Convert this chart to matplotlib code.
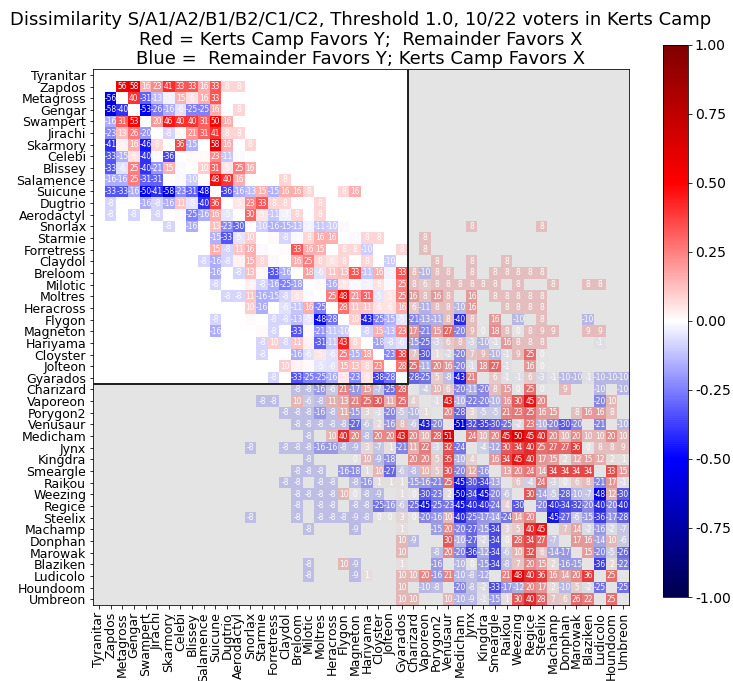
"""Antisymmetric dissimilarity heatmap between Kerts Camp and the remaining voters."""

import numpy as np
import matplotlib
matplotlib.use("Agg")
import matplotlib.pyplot as plt
from matplotlib.patches import Rectangle

plt.rcParams["axes.unicode_minus"] = False

POKEMON = [
    "Tyranitar", "Zapdos", "Metagross", "Gengar", "Swampert", "Jirachi",
    "Skarmory", "Celebi", "Blissey", "Salamence", "Suicune", "Dugtrio",
    "Aerodactyl", "Snorlax", "Starmie", "Forretress", "Claydol", "Breloom",
    "Milotic", "Moltres", "Heracross", "Flygon", "Magneton", "Hariyama",
    "Cloyster", "Jolteon", "Gyarados", "Charizard", "Vaporeon", "Porygon2",
    "Venusaur", "Medicham", "Jynx", "Kingdra", "Smeargle", "Raikou",
    "Weezing", "Regice", "Steelix", "Machamp", "Donphan", "Marowak",
    "Blaziken", "Ludicolo", "Houndoom", "Umbreon",
]
N_CAMP = 27  # first 27 entries form the Kerts Camp block

# lower triangle in percent: (first column, values up to the diagonal); "." = no data
LOWER = [
    (0, ""),
    (1, ""),
    (1, "-56"),
    (1, "-58 -40"),
    (1, "-16 31 53"),
    (1, "-23 13 26 -20"),
    (1, "-41 3 16 -46 8"),
    (1, "-33 -15 6 -40 -1 -36"),
    (1, "-33 -6 25 -40 -21 15 -1"),
    (1, "-16 -16 25 -31 -31 . -1 -10"),
    (1, "-33 -33 -16 -50 -41 -58 -23 -31 -48"),
    (1, "-8 . . -16 -8 -16 11 -5 -40 36"),
    (1, "-8 . -8 . -8 . 1 -25 -16 16 -5"),
    (6, "-8 . -16 . 13 -23 -30"),
    (10, "-15 -33 -5 10"),
    (10, "15 -8 11 16 -1"),
    (9, "-8 -16 -8 3 15 8 -1"),
    (10, "-16 . -8 13 1 -33 -16"),
    (10, "-8 . . 3 -8 -16 -25 -18"),
    (11, "-8 -8 11 -16 -15 -8 6 -1"),
    (13, "10 -16 . -6 -11 16 -25"),
    (10, "-8 . . 1 . -8 -8 -13 -5 -48 -28"),
    (10, "-16 . . . 1 -8 . -33 1 -21 -11 -10"),
    (14, "-8 10 -8 11 3 -31 -11 43 8"),
    (14, "-8 . . -16 -6 5 -6 25 -15 18"),
    (16, "10 3 1 -5 -6 15 13 8 23"),
    (15, "-8 . -33 -25 -25 -16 5 -23 6 -38 -28"),
    (17, "-8 -8 -16 -6 21 -17 15 -7 -25 28"),
    (14, "-8 -8 . 10 -6 -8 11 13 21 25 30 11 25 4"),
    (16, "-8 -8 -8 -16 -8 11 -15 3 -1 -20 -5 -10 1"),
    (17, "-8 -8 -8 -8 -8 -27 -6 2 -16 8 -6 -43 -20"),
    (18, "-8 . 10 40 20 -8 20 20 43 20 10 28 51"),
    (13, "-8 . . -8 -8 -8 -16 -16 -8 -9 3 -7 1 -21 11 22 -3 32 -24"),
    (18, "-8 . . . 0 10 -9 -18 . 20 20 5 35 -10 4"),
    (17, "-8 -8 -8 . -16 -18 1 10 -27 -6 -8 10 5 30 -20 12 -16"),
    (16, "-8 -8 . -8 -8 . -8 -16 1 1 1 -15 -16 -21 25 -45 -30 -34 -13"),
    (17, "-8 -8 -8 -8 10 0 -8 -9 . 1 0 -30 -23 2 -50 -34 -45 -20 -6"),
    (17, "-8 . -8 -8 . -8 -8 -25 -16 -6 -25 -45 -25 -23 -45 -40 -40 -24 4 -30"),
    (13, "-8 . . . -8 . -8 -8 -8 -9 -8 0 0 3 0 -20 -16 10 -40 -25 -17 -14 -24 14 20"),
    (18, "-8 . . . -9 . . . 1 . . -15 20 -20 -27 -15 -34 3 5 40 45"),
    (26, "10 -9 . . 30 -10 -27 -2 -34 0 28 34 27 -7"),
    (26, "10 . . -8 20 -20 -36 -12 -34 -6 10 32 6 -14 -17"),
    (18, "-8 . . 10 -9 . . . 1 . . -16 . -10 0 -15 -34 -8 7 20 15 2 -16 -15"),
    (18, "-8 . . . -9 1 . . 10 10 20 -16 21 -10 -8 -12 . 21 48 40 36 16 14 20 36"),
    (26, "10 . -10 -8 . -20 -8 -2 -33 -17 -12 20 17 2 -10 5 -2 -25"),
    (26, "10 10 . . 10 -10 -9 -1 -15 1 30 40 28 7 6 26 22 . 25"),
]

TITLE = ("Dissimilarity S/A1/A2/B1/B2/C1/C2, Threshold 1.0, 10/22 voters in Kerts Camp\n"
         "Red = Kerts Camp Favors Y;  Remainder Favors X\n"
         "Blue =  Remainder Favors Y; Kerts Camp Favors X")


def build_matrix():
    n = len(POKEMON)
    mat = np.full((n, n), np.nan)
    for i, (start, text) in enumerate(LOWER):
        toks = text.split()
        assert start + len(toks) == i, (i, start, len(toks))
        for k, tok in enumerate(toks):
            if tok != ".":
                j = start + k
                mat[i, j] = int(tok)
                mat[j, i] = -int(tok)
    return mat


mat = build_matrix()
n = len(POKEMON)

fig = plt.figure(figsize=(733 / 72, 681 / 72), dpi=72)
ax = fig.add_axes([0.127, 0.1116, 0.731, 0.787])
cax = fig.add_axes([0.9045, 0.1233, 0.034, 0.811])

mesh = ax.pcolormesh(np.ma.masked_invalid(mat / 100.0), cmap="seismic",
                     vmin=-1, vmax=1, zorder=1)

# shade everything outside the camp-vs-camp block
for x0, y0, w, h in [(N_CAMP, 0, n - N_CAMP, N_CAMP), (0, N_CAMP, n, n - N_CAMP)]:
    ax.add_patch(Rectangle((x0, y0), w, h, facecolor="black", alpha=0.106,
                           edgecolor="none", zorder=2))

for i in range(n):
    for j in range(n):
        if not np.isnan(mat[i, j]):
            ax.text(j + 0.5, i + 0.5, f"{int(mat[i, j])}", ha="center",
                    va="center", color="white", fontsize=7.5, zorder=3)

ax.plot([N_CAMP, N_CAMP], [0, N_CAMP], color="#222222", lw=2, zorder=4)
ax.plot([0, N_CAMP], [N_CAMP, N_CAMP], color="#222222", lw=2, zorder=4)

ax.set_xlim(0, n)
ax.set_ylim(n, 0)
ax.set_xticks(np.arange(n) + 0.5)
ax.set_yticks(np.arange(n) + 0.5)
ax.set_xticklabels(POKEMON, rotation=90, fontsize=12.5)
ax.set_yticklabels(POKEMON, fontsize=12.5)
ax.set_title(TITLE, fontsize=18, pad=5, linespacing=1.1)

cb = fig.colorbar(mesh, cax=cax, ticks=np.linspace(-1, 1, 9))
cb.ax.set_yticklabels([f"{t:.2f}" for t in np.linspace(-1, 1, 9)], fontsize=14)

fig.savefig("out.png", dpi=72)
